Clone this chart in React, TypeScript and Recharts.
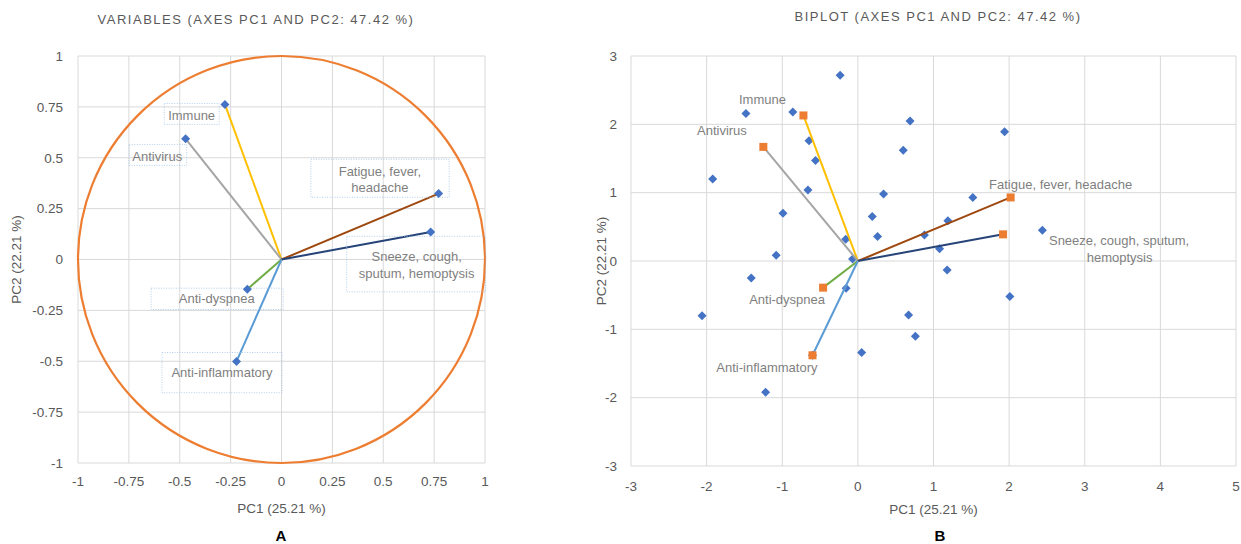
import React from 'react'
import {
  ScatterChart, Scatter, XAxis, YAxis, CartesianGrid, ReferenceArea,
} from 'recharts'

// variables (loadings on PC1/PC2) and the biplot vectors
const variables = [
  'Immune', 'Antivirus', 'Fatigue, fever, headache',
  'Sneeze, cough, sputum, hemoptysis', 'Anti-dyspnea', 'Anti-inflammatory',
]
const loadPC1 = [-0.278, -0.471, 0.772, 0.733, -0.168, -0.221]
const loadPC2 = [0.762, 0.593, 0.324, 0.135, -0.146, -0.501]
const biplotPC1 = [-0.72, -1.25, 2.02, 1.92, -0.46, -0.6]
const biplotPC2 = [2.13, 1.67, 0.93, 0.39, -0.39, -1.38]

// observations (biplot)
const obsPC1 = [
  -0.235, -1.48, -0.86, -0.646, -0.56, -1.92, -0.66, 0.69, 1.94, 0.6, 0.34,
  1.52, -0.99, -0.16, -1.08, -0.07, -1.41, -0.155, -2.06, 0.19, 1.19, 0.26,
  0.88, 2.44, 1.08, 1.18, 2.01, 0.67, -0.6, -1.22, 0.05, 0.76,
]
const obsPC2 = [
  2.72, 2.16, 2.18, 1.76, 1.47, 1.2, 1.04, 2.05, 1.89, 1.62, 0.98,
  0.93, 0.7, 0.32, 0.085, 0.03, -0.25, -0.4, -0.8, 0.65, 0.59, 0.36,
  0.38, 0.45, 0.18, -0.13, -0.52, -0.79, -1.38, -1.92, -1.34, -1.1,
]

const leftTicks = [-1, -0.75, -0.5, -0.25, 0, 0.25, 0.5, 0.75, 1]
const rightXTicks = [-3, -2, -1, 0, 1, 2, 3, 4, 5]
const rightYTicks = [-3, -2, -1, 0, 1, 2, 3]

const vectorColors = ['#FFC000', '#A5A5A5', '#9E480E', '#264478', '#70AD47', '#5B9BD5']

// label placement, px relative to the point
const leftLabels = [
  { box: [-60.7, -1, 55, 21], lines: [['Immune', -33.3, 10.7]] },
  { box: [-56.4, 5.6, 57.4, 21], lines: [['Antivirus', -28.4, 17.3]] },
  { box: [-127.7, -34.3, 138.3, 38], lines: [['Fatigue, fever,', -58.7, -22.3], ['headache', -58.7, -6]] },
  { box: [-84, 4.3, 139, 55.5], lines: [['Sneeze, cough,', -14, 24.3], ['sputum, hemoptysis', -14, 41]] },
  { box: [-96.2, -1, 132, 21.3], lines: [['Anti-dyspnea', -30.6, 9.6]] },
  { box: [-74.5, -9, 120, 40.3], lines: [['Anti-inflammatory', -14.5, 11]] },
]
const rightLabels = [
  [['Immune', -41, -16]],
  [['Antivirus', -41.4, -16]],
  [['Fatigue, fever, headache', 50, -13]],
  [['Sneeze, cough, sputum,', 116, 6.4], ['hemoptysis', 116.5, 23.4]],
  [['Anti-dyspnea', -36, 11.7]],
  [['Anti-inflammatory', -45.6, 11.7]],
]

const FONT = '"Liberation Sans", Arial, sans-serif'
const TICK = { fontSize: 13.5, fill: '#595959', fontFamily: FONT }
const LABEL_FILL = '#7f7f7f'

const loadings = variables.map((name, i) => ({ x: loadPC1[i], y: loadPC2[i], name, i }))
const arrows = variables.map((name, i) => ({ x: biplotPC1[i], y: biplotPC2[i], name, i }))
const observations = obsPC1.map((x, i) => ({ x, y: obsPC2[i] }))

const Diamond = (p: any) => {
  const { cx, cy } = p
  const r = 4.5
  return <path d={`M${cx},${cy - r}L${cx + r},${cy}L${cx},${cy + r}L${cx - r},${cy}Z`} fill="#4472C4" />
}
const Square = (p: any) => (
  <rect x={p.cx - 4} y={p.cy - 4} width={8} height={8} fill="#ED7D31" />
)
const Nothing = () => <g />

const LeftLabel = (p: any) => {
  const { cx, cy } = p
  const l = leftLabels[p.payload.i]
  return (
    <g>
      <rect x={cx + l.box[0]} y={cy + l.box[1]} width={l.box[2]} height={l.box[3]}
        fill="none" stroke="#9DC3E6" strokeWidth={0.8} strokeDasharray="1 1.5" />
      {l.lines.map((ln: any, k: number) => (
        <text key={k} x={cx + ln[1]} y={cy + ln[2]} textAnchor="middle" dominantBaseline="central"
          fontSize={13} fill={LABEL_FILL} fontFamily={FONT}>{ln[0]}</text>
      ))}
    </g>
  )
}
const RightLabel = (p: any) => {
  const { cx, cy } = p
  const lines = rightLabels[p.payload.i]
  return (
    <g>
      {lines.map((ln: any, k: number) => (
        <text key={k} x={cx + ln[1]} y={cy + ln[2]} textAnchor="middle" dominantBaseline="central"
          fontSize={13} fill={LABEL_FILL} fontFamily={FONT}>{ln[0]}</text>
      ))}
    </g>
  )
}

const yTitle = (dx: number) => (p: any) => {
  const vb = p.viewBox
  const x = vb.x + dx
  const y = vb.y + vb.height / 2
  return (
    <text x={x} y={y} transform={`rotate(-90 ${x} ${y})`} textAnchor="middle" dominantBaseline="central"
      fontSize={13.5} fill="#595959" fontFamily={FONT}>PC2 (22.21 %)</text>
  )
}

const xLabel = { value: 'PC1 (25.21 %)', position: 'insideBottom' as const, offset: 0, fontSize: 13.5, fill: '#595959', fontFamily: FONT }

const titleStyle: React.CSSProperties = {
  position: 'absolute', fontFamily: FONT, fontSize: 13, letterSpacing: 1.5,
  color: '#595959', textAlign: 'center', whiteSpace: 'nowrap',
}
const panelLetter: React.CSSProperties = {
  position: 'absolute', fontFamily: FONT, fontSize: 15, fontWeight: 700, color: '#000',
  width: 40, textAlign: 'center',
}

function VariablesChart() {
  return (
    <ScatterChart width={520} height={544} margin={{ top: 56, right: 35, bottom: 31, left: 0 }}>
      <CartesianGrid stroke="#d9d9d9" strokeWidth={1} />
      <XAxis type="number" dataKey="x" domain={[-1, 1]} ticks={leftTicks} interval={0}
        axisLine={false} tickLine={false} tick={TICK} tickMargin={7} height={50} label={xLabel} />
      <YAxis type="number" dataKey="y" domain={[-1, 1]} ticks={leftTicks} interval={0}
        axisLine={false} tickLine={false} tick={TICK} tickMargin={9} width={78}
        label={{ content: yTitle(16) }} />
      <ReferenceArea x1={-1} x2={1} y1={-1} y2={1} ifOverflow="visible"
        shape={(p: any) => (
          <ellipse cx={p.x + p.width / 2} cy={p.y + p.height / 2} rx={p.width / 2} ry={p.height / 2}
            fill="none" stroke="#ED7D31" strokeWidth={2.2} />
        )} />
      {loadings.map((d) => (
        <Scatter key={d.name} data={[{ x: 0, y: 0 }, { x: d.x, y: d.y }]} shape={Nothing}
          line={{ stroke: vectorColors[d.i], strokeWidth: 2 }} isAnimationActive={false} />
      ))}
      <Scatter data={loadings} shape={LeftLabel} isAnimationActive={false} />
      <Scatter data={loadings} shape={Diamond} isAnimationActive={false} />
    </ScatterChart>
  )
}

function BiplotChart() {
  return (
    <ScatterChart width={701} height={544} margin={{ top: 56, right: 5, bottom: 30, left: 0 }}>
      <CartesianGrid stroke="#d9d9d9" strokeWidth={1} />
      <XAxis type="number" dataKey="x" domain={[-3, 5]} ticks={rightXTicks} interval={0}
        axisLine={false} tickLine={false} tick={TICK} tickMargin={9} height={48} label={xLabel} />
      <YAxis type="number" dataKey="y" domain={[-3, 3]} ticks={rightYTicks} interval={0}
        axisLine={false} tickLine={false} tick={TICK} tickMargin={8} width={91}
        label={{ content: yTitle(61) }} />
      <Scatter data={observations} shape={Diamond} isAnimationActive={false} />
      {arrows.map((d) => (
        <Scatter key={d.name} data={[{ x: 0, y: 0 }, { x: d.x, y: d.y }]} shape={Nothing}
          line={{ stroke: vectorColors[d.i], strokeWidth: 2 }} isAnimationActive={false} />
      ))}
      <Scatter data={arrows} shape={Square} isAnimationActive={false} />
      <Scatter data={arrows} shape={RightLabel} isAnimationActive={false} />
    </ScatterChart>
  )
}

export default function App() {
  return (
    <div style={{ position: 'relative', width: 1241, height: 544, overflow: 'hidden', background: '#fff' }}>
      <style>{'body{margin:0}'}</style>
      <div style={{ ...titleStyle, left: 56, width: 400, top: 12 }}>VARIABLES (AXES PC1 AND PC2: 47.42 %)</div>
      <div style={{ ...titleStyle, left: 738, width: 400, top: 9 }}>BIPLOT (AXES PC1 AND PC2: 47.42 %)</div>
      <div style={{ position: 'absolute', left: 0, top: 0 }}>
        <VariablesChart />
      </div>
      <div style={{ position: 'absolute', left: 540, top: 0 }}>
        <BiplotChart />
      </div>
      <div style={{ ...panelLetter, left: 261, top: 527 }}>A</div>
      <div style={{ ...panelLetter, left: 920, top: 527 }}>B</div>
    </div>
  )
}
